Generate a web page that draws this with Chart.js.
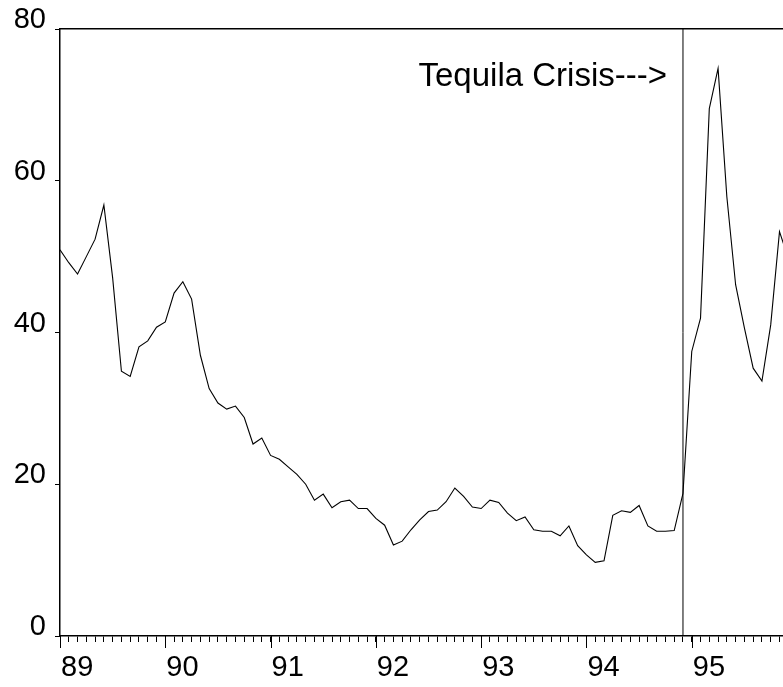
<!DOCTYPE html>
<html>
<head>
<meta charset="utf-8">
<script src="https://cdn.jsdelivr.net/npm/chart.js@4"></script>
<style>
  html, body { margin: 0; padding: 0; background: #fff; overflow: hidden; }
  #wrap { width: 783px; height: 687px; position: relative; }
</style>
</head>
<body>
<div id="wrap"><canvas id="c"></canvas></div>
<script>
// Monthly series, Jan 1989 (index 0) .. Dec 1995 partially visible
const yearLabels = ['89', '90', '91', '92', '93', '94', '95'];
const seriesValues = [
  50.9, 49.2, 47.7, 50.0, 52.3, 56.8, 47.2, 34.9, 34.2, 38.1, 38.9, 40.7,
  41.4, 45.2, 46.7, 44.4, 37.0, 32.6, 30.7, 29.9, 30.3, 28.8, 25.3, 26.1,
  23.8, 23.3, 22.3, 21.3, 20.0, 17.9, 18.7, 16.9, 17.7, 17.9, 16.8, 16.8,
  15.5, 14.6, 12.0, 12.5, 14.0, 15.3, 16.4, 16.6, 17.7, 19.5, 18.4, 17.0,
  16.8, 17.9, 17.6, 16.2, 15.2, 15.7, 14.0, 13.8, 13.8, 13.2, 14.5, 11.9,
  10.7, 9.7, 9.9, 15.9, 16.5, 16.3, 17.2, 14.5, 13.8, 13.8, 13.9, 18.8,
  37.5, 41.9, 69.5, 74.8, 57.9, 46.3, 40.6, 35.3, 33.6, 41.0, 53.3, 49.8
];
const yTicks = [0, 20, 40, 60, 80];
const crisisMonth = 71;           // Dec 1994
const crisisLabel = 'Tequila Crisis--->';
const crisisLabelY = 72.5;        // baseline of annotation, in data units

const FONT = "'Liberation Sans', Arial, sans-serif";

const points = seriesValues.map((v, i) => ({ x: i, y: v }));
const crisisLine = [{ x: crisisMonth, y: yTicks[0] }, { x: crisisMonth, y: yTicks[yTicks.length - 1] }];

const extras = {
  id: 'extras',
  afterDraw(chart) {
    const ctx = chart.ctx;
    const xs = chart.scales.x, ys = chart.scales.y;
    const area = chart.chartArea;
    ctx.save();
    // major (year) tick marks
    ctx.strokeStyle = '#000';
    ctx.lineWidth = 1;
    for (let k = 0; k < yearLabels.length; k++) {
      const px = Math.round(xs.getPixelForValue(k * 12)) + 0.5;
      ctx.beginPath();
      ctx.moveTo(px, area.bottom);
      ctx.lineTo(px, area.bottom + 12);
      ctx.stroke();
    }
    // annotation
    ctx.fillStyle = '#000';
    ctx.font = "33px " + FONT;
    ctx.textAlign = 'right';
    ctx.textBaseline = 'alphabetic';
    ctx.fillText(crisisLabel, xs.getPixelForValue(crisisMonth) - 16, ys.getPixelForValue(crisisLabelY));
    ctx.restore();
  }
};

function fitX(s) { s.height = 51; s.paddingLeft = 0; s.paddingRight = 0; }
function fitTop(s) { s.height = 0; s.paddingLeft = 0; s.paddingRight = 0; }
function fitY(s) { s.width = 60; s.paddingTop = 0; s.paddingBottom = 0; }

new Chart(document.getElementById('c'), {
  type: 'line',
  data: {
    datasets: [
      {
        data: points,
        borderColor: '#000',
        borderWidth: 1.1,
        pointRadius: 0,
        tension: 0,
        fill: false
      },
      {
        data: crisisLine,
        borderColor: '#000',
        borderWidth: 1,
        pointRadius: 0,
        tension: 0,
        fill: false
      }
    ]
  },
  options: {
    responsive: true,
    maintainAspectRatio: false,
    animation: false,
    events: [],
    layout: { padding: { top: 29, left: 0, right: 0, bottom: 0 } },
    plugins: { legend: { display: false }, tooltip: { enabled: false } },
    scales: {
      x: {
        type: 'linear',
        position: 'bottom',
        min: 0,
        max: 82.4,
        afterFit: fitX,
        border: { display: true, color: '#000', width: 1.5 },
        grid: { drawOnChartArea: false, drawTicks: true, tickLength: 6, color: '#000', lineWidth: 1 },
        ticks: {
          stepSize: 1,
          autoSkip: false,
          maxTicksLimit: 500,
          includeBounds: false,
          maxRotation: 0,
          minRotation: 0,
          align: 'start',
          labelOffset: 1,
          padding: 9,
          color: '#000',
          font: { family: FONT, size: 29 },
          callback: (v) => (Number.isInteger(v) && v % 12 === 0 && yearLabels[v / 12]) ? yearLabels[v / 12] : ''
        }
      },
      x2: {
        type: 'linear',
        position: 'top',
        min: 0,
        max: 82.4,
        afterFit: fitTop,
        border: { display: true, color: '#000', width: 1.5 },
        grid: { display: false },
        ticks: { display: false }
      },
      y: {
        type: 'linear',
        min: 0,
        max: 80,
        afterFit: fitY,
        border: { display: true, color: '#000', width: 1.5 },
        grid: { drawOnChartArea: false, drawTicks: true, tickLength: 5, color: '#000', lineWidth: 1 },
        afterBuildTicks(s) { s.ticks = yTicks.map(v => ({ value: v })); },
        ticks: {
          color: '#000',
          padding: 9,
          labelOffset: -9,
          font: { family: FONT, size: 29 },
          callback: (v) => String(v)
        }
      }
    }
  },
  plugins: [extras]
});
</script>
</body>
</html>
